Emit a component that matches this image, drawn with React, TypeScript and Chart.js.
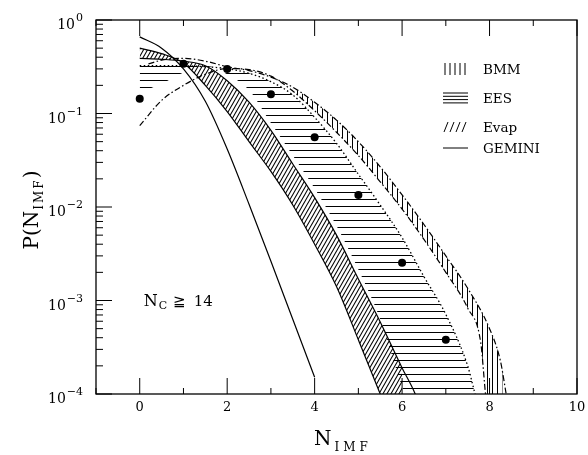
import React, { useEffect, useRef } from "react";
import { Chart, registerables } from "chart.js";
Chart.register(...registerables);

// ---------- data ----------
const gemN = [0, 0.5, 1, 1.5, 2, 2.5, 3, 3.5, 4];
const gemP = [0.66, 0.5, 0.3, 0.135, 0.0417, 0.0107, 0.00263, 0.00063, 0.000151];

const evapAN = [0, 0.5, 1, 1.5, 2, 2.5, 3, 3.5, 4, 4.5, 5, 5.5, 6];
const evapAP = [0.5, 0.437, 0.347, 0.2, 0.105, 0.05, 0.024, 0.0105, 0.004, 0.00141, 0.00038, 0.0001, 0.000025];

const evapBN = [0, 0.5, 1, 1.5, 2, 2.5, 3, 3.5, 4, 4.5, 5, 5.5, 6, 6.3, 6.6];
const evapBP = [0.389, 0.38, 0.363, 0.324, 0.224, 0.132, 0.066, 0.0288, 0.0126, 0.005, 0.0017, 0.00059, 0.00019, 0.0001, 0.00004];

const eesLowN = [0, 0.5, 1, 1.5, 2, 2.5, 3, 3.5, 4, 4.5, 5, 5.5, 6, 6.5, 8.2];
const eesLowP = [0.166, 0.209, 0.275, 0.324, 0.263, 0.178, 0.079, 0.0355, 0.0158, 0.0063, 0.00214, 0.00063, 0.00012, 0.000032, 0.0000032];

const eesHighN = [0, 0.5, 1, 1.5, 2, 2.5, 3, 3.5, 4, 4.5, 5, 5.5, 6, 6.5, 7, 7.5, 7.7, 8.2];
const eesHighP = [0.324, 0.324, 0.324, 0.316, 0.302, 0.269, 0.219, 0.158, 0.091, 0.048, 0.0224, 0.0105, 0.0047, 0.0018, 0.00071, 0.0002, 0.000089, 0.00002];

const bmmLowN = [0, 0.5, 1, 1.5, 2, 2.5, 3, 3.5, 4, 4.5, 5, 5.5, 6, 6.5, 7, 7.5, 7.8, 7.92, 8.3];
const bmmLowP = [0.074, 0.138, 0.2, 0.263, 0.302, 0.295, 0.251, 0.174, 0.107, 0.063, 0.0355, 0.0186, 0.0095, 0.0045, 0.002, 0.00083, 0.00035, 0.000089, 0.00001];

const bmmHighN = [0.2, 0.5, 1, 1.5, 2, 2.5, 3, 3.5, 4, 4.5, 5, 5.5, 6, 6.5, 7, 7.5, 8, 8.25, 8.38, 8.6];
const bmmHighP = [0.339, 0.372, 0.389, 0.363, 0.316, 0.288, 0.245, 0.191, 0.132, 0.085, 0.05, 0.0269, 0.0135, 0.0065, 0.003, 0.00135, 0.0005, 0.000224, 0.0001, 0.000025];

const bmmHatchFrom = 3.5; // vertical hatching only visible from here on

const dataN = [0, 1, 2, 3, 4, 5, 6, 7];
const dataP = [0.144, 0.34, 0.3, 0.161, 0.0556, 0.0134, 0.00254, 0.00038];

const xTickLabels = [0, 2, 4, 6, 8, 10];
const yTickExps = [0, -1, -2, -3, -4];
const legendLabels = ["BMM", "EES", "Evap", "GEMINI"];

const SERIF = '"DejaVu Serif", serif';

function makePattern(kind: string): CanvasPattern {
  const c = document.createElement("canvas");
  const g = c.getContext("2d")!;
  g.strokeStyle = "#000";
  g.fillStyle = "#000";
  if (kind === "h") {
    c.width = 8; c.height = 7;
    g.fillRect(0, 3, 8, 1);
  } else if (kind === "v") {
    c.width = 5; c.height = 8;
    g.fillRect(2, 0, 1, 8);
  } else {
    c.width = 4; c.height = 7;
    g.lineWidth = 1.1;
    for (const dx of [-4, 0, 4]) {
      g.beginPath();
      g.moveTo(dx - 1, 8.75);
      g.lineTo(dx + 5, -1.75);
      g.stroke();
    }
  }
  return g.createPattern(c, "repeat")!;
}

const pts = (n: number[], p: number[]) => n.map((x, i) => ({ x, y: p[i] }));

function spacedText(ctx: CanvasRenderingContext2D, s: string, x: number, y: number, gap: number) {
  let cx = x;
  for (const ch of s) {
    ctx.fillText(ch, cx, y);
    cx += ctx.measureText(ch).width + gap;
  }
  return cx - gap - x;
}
function spacedWidth(ctx: CanvasRenderingContext2D, s: string, gap: number) {
  let w = 0;
  for (const ch of s) w += ctx.measureText(ch).width + gap;
  return w - gap;
}

const deco = {
  id: "deco",
  afterDraw(chart: any) {
    const { ctx, chartArea } = chart;
    const { left, right, top, bottom } = chartArea;
    const xs = chart.scales.x;
    const ys = chart.scales.y;
    ctx.save();
    ctx.strokeStyle = "#000";
    ctx.fillStyle = "#000";
    ctx.lineWidth = 1.3;
    ctx.strokeRect(left, top, right - left, bottom - top);

    const seg = (x1: number, y1: number, x2: number, y2: number) => {
      ctx.beginPath();
      ctx.moveTo(x1, y1);
      ctx.lineTo(x2, y2);
      ctx.stroke();
    };
    ctx.lineWidth = 1;
    // x ticks (top and bottom)
    for (let v = Math.ceil(xs.min); v <= xs.max; v++) {
      const px = xs.getPixelForValue(v);
      const len = v % 2 === 0 ? 16 : 6;
      seg(px, bottom, px, bottom - len);
      seg(px, top, px, top + len);
    }
    // y ticks (left)
    for (const e of yTickExps) {
      for (let m = 1; m <= 9; m++) {
        const v = m * Math.pow(10, e);
        if (v > ys.max * 1.0001 || v < ys.min * 0.9999) continue;
        const py = ys.getPixelForValue(v);
        const len = m === 1 ? 16 : 7;
        seg(left, py, left + len, py);
      }
    }

    // x tick labels
    ctx.font = `13px ${SERIF}`;
    ctx.textAlign = "center";
    ctx.textBaseline = "middle";
    for (const v of xTickLabels) {
      ctx.fillText(String(v), xs.getPixelForValue(v), bottom + 14);
    }
    // y tick labels 10^e
    ctx.textBaseline = "alphabetic";
    for (const e of yTickExps) {
      const py = ys.getPixelForValue(Math.pow(10, e));
      const expStr = e === 0 ? "0" : "\u2212" + String(-e);
      ctx.font = `11px ${SERIF}`;
      const ew = ctx.measureText(expStr).width;
      ctx.textAlign = "left";
      const xr = left - 13;
      ctx.fillText(expStr, xr - ew, py + 1);
      ctx.font = `14px ${SERIF}`;
      ctx.textAlign = "right";
      ctx.fillText("10", xr - ew - 1, py + 9);
    }

    // x title N_IMF
    ctx.textAlign = "left";
    ctx.textBaseline = "alphabetic";
    ctx.font = `20px ${SERIF}`;
    const nW = ctx.measureText("N").width;
    ctx.font = `12px ${SERIF}`;
    const subW = spacedWidth(ctx, "IMF", 4);
    const x0 = 314;
    ctx.font = `20px ${SERIF}`;
    ctx.fillText("N", x0, bottom + 51);
    ctx.font = `12px ${SERIF}`;
    spacedText(ctx, "IMF", x0 + nW + 3, bottom + 57, 4);
    void subW;

    // y title P(N_IMF)
    ctx.save();
    const cy = (top + bottom) / 2 + 3;
    ctx.translate(38, cy);
    ctx.rotate(-Math.PI / 2);
    ctx.font = `20px ${SERIF}`;
    const a = ctx.measureText("P(N").width;
    const c2 = ctx.measureText(")").width;
    ctx.font = `12px ${SERIF}`;
    const b = spacedWidth(ctx, "IMF", 2);
    const tx = -(a + b + c2 + 3) / 2;
    ctx.font = `20px ${SERIF}`;
    ctx.fillText("P(N", tx, 0);
    ctx.font = `12px ${SERIF}`;
    spacedText(ctx, "IMF", tx + a + 1, 5, 2);
    ctx.font = `20px ${SERIF}`;
    ctx.fillText(")", tx + a + b + 3, 0);
    ctx.restore();

    // legend
    const lx = 443, lw = 25, tx2 = 483;
    const rows = [69, 98, 127, 148];
    ctx.lineWidth = 1;
    for (let i = 0; i < 5; i++) seg(lx + 2 + i * 5, rows[0] - 6, lx + 2 + i * 5, rows[0] + 6);
    for (let i = 0; i < 4; i++) seg(lx, rows[1] - 5 + i * 3.3, lx + lw, rows[1] - 5 + i * 3.3);
    for (let i = 0; i < 4; i++) seg(lx + 1 + i * 6, rows[2] + 5, lx + 5 + i * 6, rows[2] - 5);
    seg(lx, rows[3], lx + lw, rows[3]);
    ctx.font = `13.5px ${SERIF}`;
    ctx.textAlign = "left";
    ctx.textBaseline = "middle";
    legendLabels.forEach((t, i) => ctx.fillText(t, tx2, rows[i] + 1));

    // annotation N_C >= 14
    ctx.textBaseline = "alphabetic";
    ctx.font = `16px ${SERIF}`;
    const ax = xs.getPixelForValue(0) + 4;
    const ay = 306;
    ctx.fillText("N", ax, ay);
    const w1 = ctx.measureText("N").width;
    ctx.font = `11px ${SERIF}`;
    ctx.fillText("C", ax + w1 + 1, ay + 3);
    ctx.font = `15px ${SERIF}`;
    ctx.fillText("\u2267", ax + w1 + 15, ay);
    ctx.fillText("14", ax + w1 + 36, ay);
    ctx.restore();
  },
};

export default function App() {
  const ref = useRef<HTMLCanvasElement>(null);
  useEffect(() => {
    const canvas = ref.current!;
    const hPat = makePattern("h");
    const vPat = makePattern("v");
    const dPat = makePattern("d");
    const base = {
      showLine: true,
      pointRadius: 0,
      borderColor: "#000",
      borderWidth: 1.2,
      cubicInterpolationMode: "monotone" as const,
      fill: false as any,
    };
    const none = "rgba(0,0,0,0)";
    const bmmHiFill = pts(bmmHighN, bmmHighP).filter((p) => p.x >= bmmHatchFrom);
    const bmmLoFill = pts(bmmLowN, bmmLowP).filter((p) => p.x >= bmmHatchFrom);
    const dashDot = [6, 2.5, 1.5, 2.5];

    const chart = new Chart(canvas, {
      type: "line",
      data: {
        datasets: [
          { ...base, label: "EES upper", data: pts(eesHighN, eesHighP), borderDash: [1.5, 2.5], borderWidth: 1.3 },
          { ...base, label: "EES lower", data: pts(eesLowN, eesLowP), borderColor: none, borderWidth: 0, fill: { target: 0 }, backgroundColor: hPat },
          { ...base, label: "BMM hatch upper", data: bmmHiFill, borderColor: none, borderWidth: 0 },
          { ...base, label: "BMM hatch lower", data: bmmLoFill, borderColor: none, borderWidth: 0, fill: { target: 2 }, backgroundColor: vPat },
          { ...base, label: "BMM upper", data: pts(bmmHighN, bmmHighP), borderDash: dashDot, borderWidth: 1.2 },
          { ...base, label: "BMM lower", data: pts(bmmLowN, bmmLowP), borderDash: dashDot, borderWidth: 1.2 },
          { ...base, label: "Evap a", data: pts(evapAN, evapAP), fill: { target: 7 }, backgroundColor: dPat },
          { ...base, label: "Evap b", data: pts(evapBN, evapBP) },
          { ...base, label: "GEMINI", data: pts(gemN, gemP) },
          {
            label: "data",
            data: pts(dataN, dataP),
            showLine: false,
            pointRadius: 4,
            pointBackgroundColor: "#000",
            pointBorderColor: "#000",
            pointBorderWidth: 0,
            order: -1,
          },
        ],
      },
      options: {
        responsive: false,
        animation: false,
        events: [],
        layout: { padding: { left: 96, right: 11, top: 20, bottom: 61 } },
        scales: {
          x: { type: "linear", min: -1, max: 10, display: false },
          y: { type: "logarithmic", min: 1e-4, max: 1, display: false },
        },
        plugins: {
          legend: { display: false },
          tooltip: { enabled: false },
        },
      },
      plugins: [deco],
    });
    return () => chart.destroy();
  }, []);
  return (
    <div style={{ position: "absolute", left: 0, top: 0, width: 588, height: 455, background: "#fff" }}>
      <canvas ref={ref} width={588} height={455} style={{ display: "block" }} />
    </div>
  );
}
